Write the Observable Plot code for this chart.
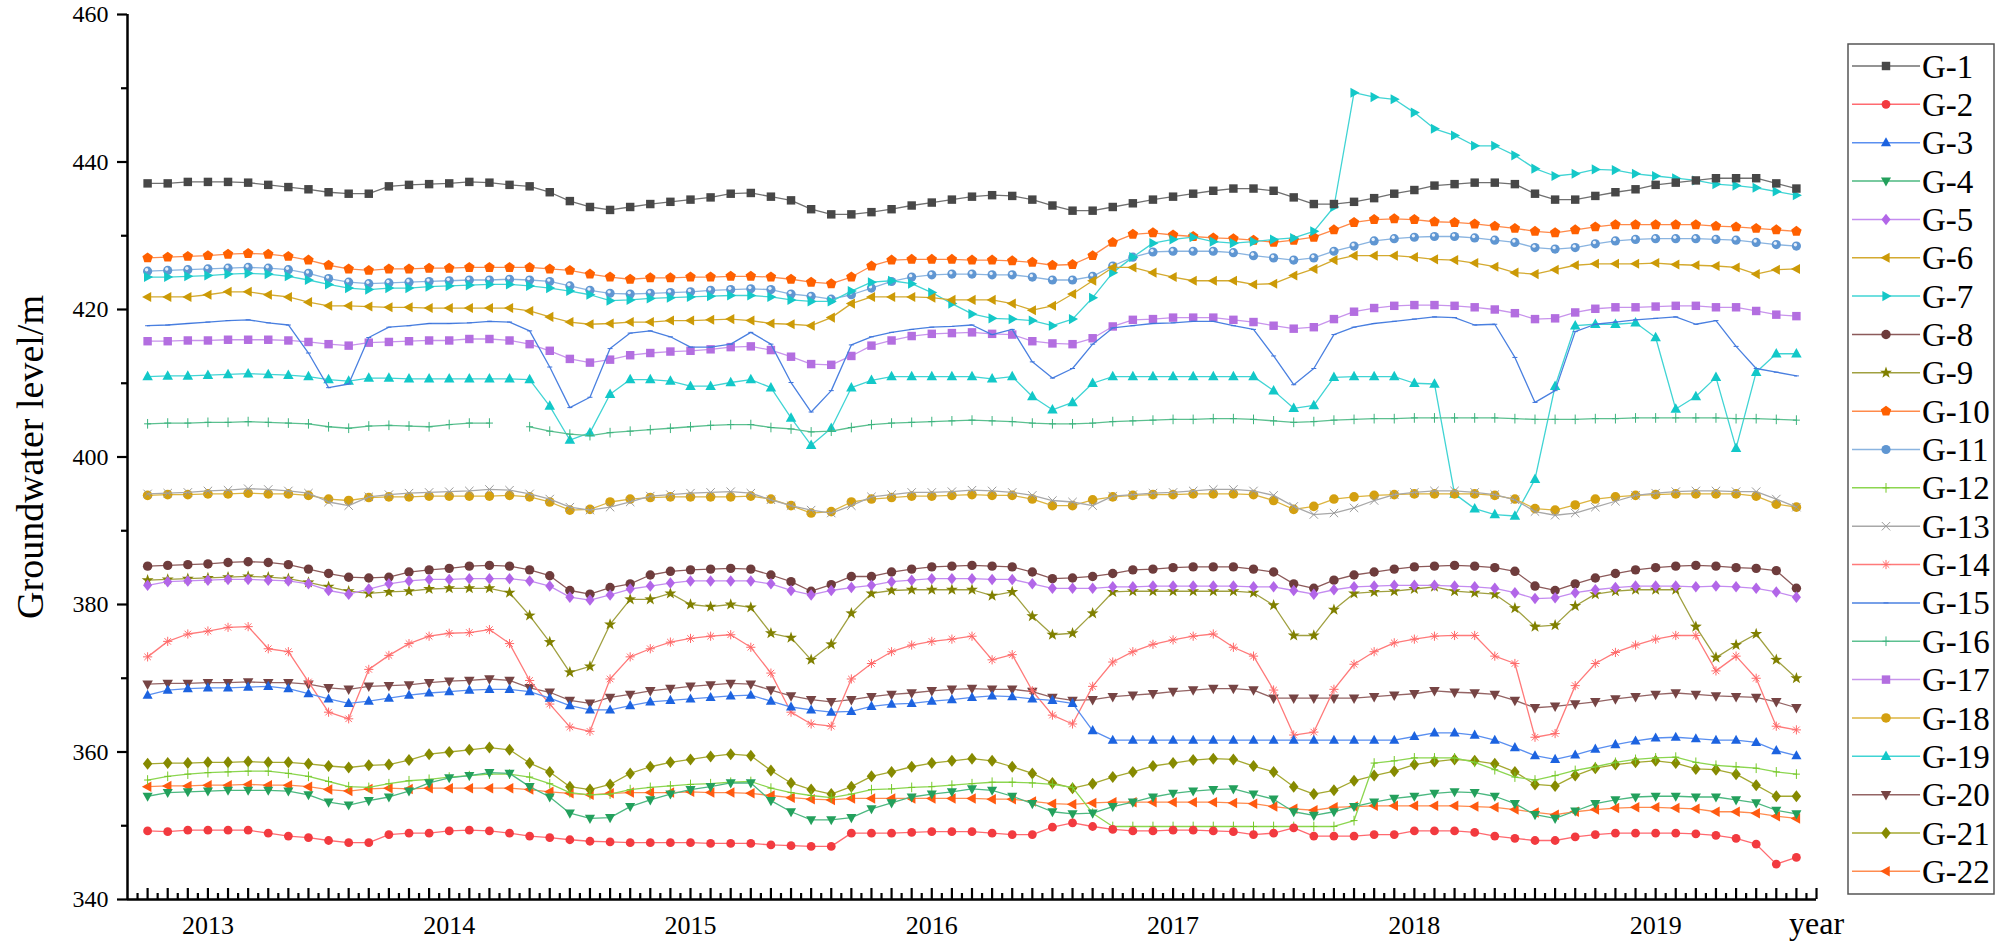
<!DOCTYPE html>
<html>
<head>
<meta charset="utf-8">
<script src="https://cdn.jsdelivr.net/npm/d3@7"></script>
<script src="https://cdn.jsdelivr.net/npm/@observablehq/plot@0.6"></script>
<style>
  html, body { margin: 0; padding: 0; background: #fff; overflow: hidden; }
  #wrap { position: relative; width: 2000px; height: 943px; }
  #legend { position: absolute; left: 0; top: 0; }
</style>
</head>
<body>
<div id="wrap"></div>
<script>
// ---------------- data ----------------
const seriesNames = ["G-1","G-2","G-3","G-4","G-5","G-6","G-7","G-8","G-9","G-10","G-11","G-12","G-13","G-14","G-15","G-16","G-17","G-18","G-19","G-20","G-21","G-22"];
const yearTicks = [3, 15, 27, 39, 51, 63, 75];
const yearLabels = ["2013","2014","2015","2016","2017","2018","2019"];
const yMajor = [340, 360, 380, 400, 420, 440, 460];
const yMinor = [350, 370, 390, 410, 430, 450];
const xDomain = [-1, 83];
const xTitle = "year";
const yTitle = "Groundwater level/m";

const G1 = [437.1,437.1,437.3,437.3,437.3,437.2,436.9,436.6,436.3,435.9,435.7,435.7,
436.7,436.9,437.0,437.1,437.3,437.2,436.9,436.7,435.9,434.7,433.9,433.5,
433.9,434.3,434.6,434.9,435.2,435.7,435.8,435.3,434.8,433.6,432.9,432.9,
433.2,433.6,434.1,434.5,434.9,435.3,435.5,435.4,434.9,434.1,433.4,433.4,
433.9,434.4,434.9,435.3,435.7,436.1,436.4,436.4,436.1,435.2,434.3,434.3,
434.6,435.1,435.7,436.2,436.8,437.0,437.2,437.2,437.0,435.7,434.9,434.9,
435.4,435.9,436.3,436.9,437.2,437.5,437.8,437.8,437.8,437.1,436.4];
const G2 = [349.3,349.2,349.4,349.4,349.4,349.4,349.0,348.6,348.4,348.0,347.7,347.7,
348.8,349.0,349.0,349.3,349.4,349.3,349.0,348.6,348.4,348.1,347.9,347.8,
347.7,347.7,347.7,347.7,347.6,347.6,347.6,347.4,347.3,347.2,347.2,349.0,
349.0,349.0,349.1,349.2,349.2,349.2,349.0,348.8,348.8,349.8,350.4,349.9,
349.5,349.3,349.3,349.4,349.4,349.3,349.2,348.8,349.0,349.7,348.6,348.6,
348.6,348.8,348.8,349.3,349.3,349.3,349.1,348.6,348.3,348.0,348.0,348.5,
348.8,349.0,349.0,349.0,349.0,348.9,348.7,348.3,347.5,344.8,345.7];
const G3 = [367.7,368.4,368.6,368.7,368.7,368.8,368.9,368.6,367.9,367.2,366.6,366.9,
367.3,367.7,368.0,368.2,368.4,368.5,368.5,368.2,367.3,366.3,365.7,365.7,
366.3,366.8,367.0,367.2,367.4,367.6,367.7,366.9,366.1,365.7,365.4,365.5,
366.2,366.5,366.6,366.9,367.1,367.4,367.6,367.5,367.2,367.0,366.6,362.9,
361.6,361.6,361.6,361.6,361.6,361.6,361.6,361.6,361.6,361.6,361.6,361.6,
361.6,361.6,361.6,362.1,362.6,362.6,362.3,361.6,360.6,359.5,359.0,359.6,
360.4,361.0,361.5,361.9,362.0,361.8,361.6,361.6,361.3,360.2,359.5];
const G4 = [354.0,354.5,354.6,354.7,354.8,354.8,354.8,354.7,354.2,353.2,352.8,353.4,
353.9,354.7,355.8,356.5,356.8,357.2,357.1,355.3,353.9,351.7,351.0,351.1,
352.6,353.5,354.3,354.9,355.3,355.8,355.8,353.4,351.9,350.8,350.8,351.1,
352.3,353.1,353.9,354.3,354.6,355.0,354.8,354.0,353.0,351.9,351.6,351.7,
352.6,353.2,353.9,354.4,354.7,354.9,355.0,354.3,353.6,351.9,351.4,351.9,
352.6,353.2,353.7,354.0,354.4,354.6,354.5,354.0,353.0,351.5,351.0,352.0,
353.0,353.5,353.9,354.0,354.0,353.9,353.9,353.5,353.1,352.1,351.6];
const G5 = [382.6,383.1,383.2,383.3,383.4,383.4,383.3,383.2,382.8,381.9,381.4,382.1,
382.8,383.2,383.4,383.4,383.5,383.5,383.5,383.2,382.5,381.0,380.6,381.3,
382.1,382.5,382.9,383.2,383.2,383.2,383.2,382.8,381.9,381.3,381.9,382.3,
382.6,383.1,383.3,383.5,383.5,383.5,383.4,383.4,382.8,382.2,382.2,382.2,
382.4,382.4,382.5,382.5,382.5,382.5,382.5,382.4,382.4,381.9,381.4,382.0,
382.4,382.5,382.6,382.6,382.6,382.5,382.4,382.2,381.6,380.8,380.9,381.6,
382.0,382.3,382.5,382.5,382.5,382.4,382.5,382.4,382.2,381.7,381.0];
const G6 = [421.7,421.7,421.7,422.0,422.4,422.4,422.0,421.7,421.0,420.5,420.5,420.4,
420.3,420.3,420.2,420.2,420.2,420.2,420.2,419.8,419.0,418.3,418.0,418.1,
418.3,418.3,418.5,418.5,418.6,418.7,418.5,418.1,418.0,417.8,418.9,420.8,
421.7,421.7,421.7,421.6,421.3,421.3,421.3,420.8,419.9,420.5,422.1,423.9,
425.7,425.7,425.0,424.4,423.9,423.9,423.9,423.4,423.5,424.6,425.5,426.7,
427.3,427.3,427.3,427.1,426.8,426.7,426.3,425.8,425.0,424.8,425.4,426.0,
426.2,426.2,426.2,426.3,426.1,426.0,425.9,425.7,424.8,425.4,425.5];
const G7 = [424.4,424.4,424.5,424.6,424.8,424.9,424.8,424.5,424.0,423.4,422.9,422.7,
422.9,422.9,423.1,423.2,423.3,423.4,423.4,423.2,422.9,422.5,422.0,421.2,
421.3,421.5,421.6,421.7,421.8,421.9,421.9,421.7,421.3,421.1,421.1,422.5,
423.7,423.9,423.5,422.3,420.8,419.4,418.8,418.7,418.5,417.8,418.7,421.6,
425.0,427.1,429.0,429.5,429.8,429.2,429.0,429.2,429.5,429.7,430.6,433.9,
449.4,448.8,448.5,446.7,444.5,443.6,442.2,442.2,440.9,439.1,438.1,438.4,
439.0,438.9,438.4,438.1,437.8,437.5,437.0,436.8,436.5,436.0,435.5];
const G8 = [385.2,385.3,385.4,385.5,385.7,385.8,385.7,385.4,384.8,384.2,383.7,383.6,
383.7,384.4,384.7,384.9,385.2,385.3,385.2,384.7,383.9,381.9,381.4,382.3,
382.8,384.0,384.5,384.7,384.8,384.9,384.8,384.0,383.1,381.8,382.7,383.8,
383.8,384.4,384.8,385.1,385.2,385.3,385.2,385.1,384.4,383.5,383.6,383.8,
384.2,384.7,384.8,385.0,385.1,385.1,385.1,384.8,384.4,382.8,382.2,383.3,
384.0,384.4,384.8,385.1,385.2,385.3,385.2,385.0,384.5,382.5,381.9,382.8,
383.6,384.2,384.7,385.0,385.2,385.3,385.2,385.0,384.9,384.6,382.2];
const G9 = [383.3,383.4,383.5,383.6,383.7,383.8,383.7,383.5,383.0,382.4,381.8,381.5,
381.7,381.8,382.1,382.2,382.2,382.2,381.6,378.5,374.9,370.8,371.6,377.3,
380.7,380.7,381.5,380.0,379.7,380.0,379.6,376.1,375.5,372.5,374.6,378.8,
381.5,381.9,382.0,382.0,382.0,382.0,381.2,381.7,378.4,375.9,376.1,378.8,
381.7,381.8,381.8,381.8,381.8,381.8,381.8,381.6,379.9,375.8,375.8,379.3,
381.5,381.7,381.8,382.1,382.4,381.8,381.6,381.4,379.5,377.0,377.2,379.8,
381.4,381.8,382.0,382.0,382.0,377.0,372.8,374.5,376.0,372.5,370.0];
const G10 = [427.0,427.1,427.2,427.3,427.5,427.6,427.5,427.2,426.7,426.0,425.5,425.3,
425.5,425.5,425.6,425.6,425.7,425.7,425.7,425.7,425.5,425.3,424.8,424.4,
424.1,424.3,424.3,424.4,424.4,424.5,424.5,424.4,424.1,423.7,423.5,424.4,
425.9,426.7,426.8,426.8,426.8,426.7,426.7,426.6,426.4,426.0,426.1,427.3,
429.1,430.2,430.4,430.1,429.9,429.7,429.6,429.4,429.1,429.4,429.8,430.8,
431.8,432.2,432.3,432.2,431.9,431.8,431.6,431.3,431.0,430.6,430.4,430.8,
431.2,431.5,431.5,431.5,431.5,431.5,431.3,431.2,431.0,430.8,430.6];
const G11 = [425.2,425.3,425.4,425.5,425.6,425.7,425.6,425.4,424.9,424.2,423.7,423.5,
423.6,423.7,423.8,423.9,424.0,424.0,424.1,424.0,423.8,423.2,422.6,422.2,
422.1,422.2,422.3,422.4,422.6,422.7,422.8,422.7,422.1,421.8,421.4,422.0,
422.9,423.8,424.4,424.7,424.8,424.8,424.7,424.7,424.4,424.0,424.0,424.5,
425.9,427.1,427.8,427.9,427.9,427.9,427.7,427.3,427.0,426.7,427.0,427.9,
428.6,429.3,429.6,429.8,429.9,429.9,429.7,429.4,429.1,428.4,428.2,428.4,
428.9,429.3,429.5,429.6,429.6,429.6,429.5,429.4,429.1,428.8,428.6];
const G12 = [356.2,356.7,357.0,357.2,357.3,357.4,357.4,357.1,356.7,356.0,355.3,355.2,
355.7,356.1,356.3,356.6,356.8,357.0,357.0,356.6,355.7,354.5,354.2,354.3,
354.9,355.2,355.4,355.6,355.7,355.9,356.0,355.1,354.5,354.1,353.8,354.3,
354.9,355.0,355.2,355.3,355.5,355.7,355.9,355.9,355.8,355.6,355.2,351.7,
349.9,349.9,349.9,349.9,349.9,349.9,349.9,349.9,349.9,349.9,349.9,349.9,
350.7,358.5,358.8,359.2,359.2,359.2,358.6,357.6,356.6,356.2,356.8,357.5,
358.0,358.6,359.0,359.2,359.3,358.6,358.2,358.0,357.8,357.3,357.0];
const G13 = [395.0,395.1,395.2,395.4,395.5,395.7,395.6,395.4,395.1,393.9,393.4,394.6,
394.9,395.1,395.2,395.3,395.4,395.6,395.5,395.0,394.3,393.2,392.8,393.2,
393.9,394.7,394.9,395.1,395.2,395.3,395.1,394.2,393.4,392.8,392.4,393.4,
394.6,394.9,395.2,395.2,395.3,395.5,395.4,395.2,394.8,394.1,393.9,393.4,
394.7,394.9,395.1,395.2,395.4,395.6,395.6,395.4,394.8,393.3,392.2,392.4,
393.1,394.1,394.9,395.2,395.4,395.4,395.2,394.9,394.2,392.6,392.1,392.4,
393.2,394.0,394.8,395.1,395.3,395.4,395.4,395.3,395.3,394.3,393.2];
const G14 = [372.9,375.0,376.0,376.4,376.9,377.0,374.0,373.6,369.5,365.4,364.5,371.2,
373.1,374.7,375.7,376.1,376.2,376.6,374.7,369.7,366.5,363.4,362.8,369.9,
372.9,374.0,374.9,375.4,375.7,375.9,374.2,370.7,365.4,363.8,363.5,369.9,
372.0,373.6,374.5,375.0,375.3,375.7,372.5,373.2,368.3,365.0,363.8,368.9,
372.2,373.6,374.6,375.2,375.7,376.0,374.2,373.0,368.4,362.3,362.7,368.5,
371.9,373.6,374.8,375.3,375.7,375.8,375.8,373.0,372.0,362.0,362.5,369.0,
372.0,373.5,374.5,375.3,375.8,375.8,371.0,373.0,370.0,363.5,363.0];
const G15 = [417.8,417.9,418.1,418.3,418.5,418.6,418.2,417.9,414.1,409.4,409.9,416.2,
417.6,417.8,418.1,418.1,418.2,418.4,418.3,417.1,412.2,406.7,408.1,414.7,
416.8,417.1,416.3,414.9,414.9,415.3,416.9,415.3,410.1,406.1,409.0,415.2,
416.3,416.9,417.3,417.6,417.7,417.9,416.6,417.3,412.9,410.7,412.0,415.3,
417.5,417.8,418.1,418.2,418.4,418.4,417.8,417.3,413.7,409.8,412.0,416.6,
417.6,418.1,418.4,418.7,419.0,418.9,417.9,418.0,413.5,407.4,409.0,417.0,
418.0,418.3,418.6,418.8,419.0,418.0,418.5,415.0,412.0,411.5,411.0];
const G16 = [404.5,404.6,404.6,404.7,404.7,404.8,404.7,404.6,404.5,404.1,403.9,404.2,
404.3,404.2,404.1,404.4,404.6,404.6,null,404.1,403.5,403.1,402.9,403.3,
403.5,403.7,403.9,404.1,404.3,404.4,404.4,404.0,403.8,403.4,403.5,404.0,
404.4,404.6,404.7,404.8,404.9,405.0,404.9,404.8,404.6,404.5,404.5,404.6,
404.8,404.9,405.0,405.1,405.1,405.2,405.2,405.1,404.9,404.7,404.8,405.0,
405.1,405.2,405.2,405.3,405.3,405.3,405.3,405.3,405.2,405.1,405.1,405.1,
405.2,405.2,405.3,405.3,405.3,405.3,405.3,405.2,405.2,405.1,405.0];
const G17 = [415.7,415.7,415.8,415.8,415.9,415.9,415.9,415.8,415.6,415.3,415.1,415.5,
415.6,415.7,415.8,415.8,416.0,416.0,415.8,415.3,414.4,413.3,412.8,413.2,
413.8,414.1,414.3,414.4,414.6,414.9,415.0,414.5,413.6,412.6,412.5,413.7,
415.1,415.8,416.4,416.7,416.8,416.9,416.7,416.6,415.7,415.4,415.3,416.1,
417.7,418.6,418.7,418.9,418.9,418.9,418.6,418.3,417.8,417.4,417.6,418.7,
419.7,420.2,420.5,420.6,420.6,420.5,420.3,420.0,419.5,418.7,418.8,419.6,
420.1,420.3,420.3,420.4,420.5,420.5,420.3,420.3,419.8,419.3,419.1];
const G18 = [394.8,394.9,394.9,395.0,395.0,395.1,395.0,395.0,394.8,394.3,394.1,394.5,
394.6,394.6,394.7,394.7,394.7,394.7,394.8,394.6,393.9,392.8,392.9,393.9,
394.3,394.5,394.6,394.6,394.6,394.6,394.7,394.3,393.4,392.4,392.6,393.9,
394.3,394.5,394.7,394.7,394.8,394.9,394.8,394.8,394.3,393.4,393.4,394.2,
394.6,394.8,394.9,394.9,395.0,395.0,395.0,394.9,394.1,392.9,393.3,394.3,
394.6,394.8,394.9,395.0,395.0,395.0,395.0,394.8,394.3,393.0,392.8,393.5,
394.3,394.6,394.8,394.9,395.0,395.0,395.0,395.0,394.7,393.6,393.2];
const G19 = [410.9,411.0,411.0,411.1,411.2,411.3,411.2,411.1,410.9,410.5,410.3,410.7,
410.7,410.6,410.6,410.6,410.6,410.6,410.6,410.5,406.9,402.3,403.3,408.5,
410.5,410.5,410.3,409.6,409.6,410.1,410.5,409.4,405.3,401.6,403.9,409.4,
410.4,410.9,410.9,410.9,410.9,410.9,410.6,410.9,408.2,406.4,407.4,410.0,
410.9,410.9,410.9,410.9,410.9,410.9,410.9,410.9,409.0,406.6,407.0,410.8,
410.9,410.9,410.9,410.0,409.9,395.0,393.0,392.2,392.0,397.0,409.6,417.8,
418.0,418.0,418.2,416.2,406.5,408.2,410.8,401.2,411.5,414.0,414.0];
const G20 = [369.2,369.3,369.3,369.4,369.4,369.5,369.4,369.4,369.2,368.7,368.5,368.9,
369.0,369.1,369.4,369.6,369.7,369.9,369.7,368.7,368.1,367.0,366.6,367.4,
367.8,368.3,368.6,368.9,369.1,369.3,369.2,368.4,367.6,367.1,366.8,367.1,
367.5,367.8,368.0,368.3,368.5,368.6,368.5,368.5,368.2,367.4,367.0,367.1,
367.5,367.7,367.9,368.2,368.4,368.6,368.6,368.4,367.3,367.3,367.3,367.3,
367.3,367.5,367.7,367.9,368.3,368.1,368.0,367.8,367.0,366.0,366.2,366.5,
366.8,367.2,367.5,367.8,368.0,367.8,367.6,367.5,367.4,366.8,366.0];
const G21 = [358.4,358.5,358.5,358.6,358.6,358.7,358.6,358.6,358.4,358.1,357.9,358.2,
358.3,358.9,359.7,360.0,360.3,360.6,360.3,358.5,357.3,355.3,354.9,355.6,
357.1,358.0,358.6,359.0,359.4,359.7,359.5,357.5,355.8,354.9,354.3,355.3,
356.7,357.3,358.0,358.5,358.8,359.1,358.8,358.0,357.1,355.8,355.1,355.7,
356.6,357.3,358.1,358.5,358.9,359.1,359.0,358.1,357.3,355.3,354.3,354.8,
356.1,356.8,357.4,358.3,358.7,359.0,358.8,358.4,357.3,355.6,355.4,356.8,
357.8,358.3,358.6,358.8,358.5,357.7,357.6,357.0,355.5,354.0,354.0];
const G22 = [355.3,355.4,355.4,355.5,355.5,355.6,355.5,355.5,355.3,354.9,354.7,355.0,
355.1,355.0,355.1,355.1,355.1,355.1,355.1,354.9,354.6,354.4,354.2,354.4,
354.5,354.5,354.5,354.6,354.5,354.5,354.4,354.1,353.8,353.6,353.5,353.7,
353.7,353.7,353.7,353.7,353.7,353.7,353.6,353.6,353.3,353.0,352.9,353.1,
353.2,353.2,353.2,353.2,353.2,353.2,353.1,353.0,352.6,352.3,352.1,352.5,
352.6,352.7,352.7,352.7,352.7,352.7,352.6,352.5,352.2,351.8,351.5,351.9,
352.2,352.4,352.5,352.5,352.4,352.3,351.9,351.9,351.7,351.3,351.0];

const seriesValues = [G1,G2,G3,G4,G5,G6,G7,G8,G9,G10,G11,G12,G13,G14,G15,G16,G17,G18,G19,G20,G21,G22];

// ---------------- styles ----------------
const markerColors = ["#474747","#f23a3f","#1c63e0","#23a05c","#b266e8","#cc9a06","#14c8c8","#6e3c3c","#808000","#ff6000","#5f96d2","#76c828","#9a9a9a","#ff6a6a","#3f74dc","#3cb37e","#b36ee0","#d4a010","#12c8c8","#764444","#868a00","#ff5a10"];
const lineColors   = ["#707070","#ff6a70","#5a8ff0","#4cb880","#c48cf0","#d4aa30","#40d4d4","#8c5a5a","#a0a040","#ff8a4a","#8ab4e0","#8cd650","#a8a8a8","#ff7a7a","#4a80e0","#5cc090","#c894ec","#dcb440","#40d4d4","#946464","#a4a830","#ff8c50"];

function poly(pts) {
  return {draw(ctx, size) {
    const r = Math.sqrt(size / Math.PI);
    ctx.moveTo(pts[0][0] * r, pts[0][1] * r);
    for (let k = 1; k < pts.length; ++k) ctx.lineTo(pts[k][0] * r, pts[k][1] * r);
    ctx.closePath();
  }};
}
const symSquare = poly([[-0.88,-0.88],[0.88,-0.88],[0.88,0.88],[-0.88,0.88]]);
const symTriUp = poly([[0,-1.15],[1.05,0.75],[-1.05,0.75]]);
const symTriDown = poly([[0,1.15],[1.05,-0.75],[-1.05,-0.75]]);
const symTriLeft = poly([[-1.15,0],[0.75,-1.05],[0.75,1.05]]);
const symTriRight = poly([[1.15,0],[-0.75,-1.05],[-0.75,1.05]]);
const symDiamond = poly([[0,-1.2],[0.95,0],[0,1.2],[-0.95,0]]);
const symPentagon = poly(d3.range(5).map(k => [1.1*Math.cos(-Math.PI/2 + k*2*Math.PI/5), 1.1*Math.sin(-Math.PI/2 + k*2*Math.PI/5)]));
const symStar = poly(d3.range(10).map(k => { const a = -Math.PI/2 + k*Math.PI/5, rr = k % 2 ? 0.5 : 1.25; return [rr*Math.cos(a), rr*Math.sin(a)]; }));
const symCircle = {draw(ctx, size) { const r = Math.sqrt(size / Math.PI); ctx.moveTo(r, 0); ctx.arc(0, 0, r, 0, 2*Math.PI); }};
const symPlus = {draw(ctx, size) { const r = Math.sqrt(size / Math.PI); ctx.moveTo(-r*0.8, 0); ctx.lineTo(r*0.8, 0); ctx.moveTo(0, -r*1.1); ctx.lineTo(0, r*1.1); }};
const symTimes = {draw(ctx, size) { const r = Math.sqrt(size / Math.PI); ctx.moveTo(-r, -r); ctx.lineTo(r, r); ctx.moveTo(-r, r); ctx.lineTo(r, -r); }};
const symAsterisk = {draw(ctx, size) { const r = Math.sqrt(size / Math.PI); for (let k = 0; k < 4; ++k) { const a = k*Math.PI/4; ctx.moveTo(-r*Math.cos(a), -r*Math.sin(a)); ctx.lineTo(r*Math.cos(a), r*Math.sin(a)); } }};
const symDash = {draw(ctx, size) { const r = Math.sqrt(size / Math.PI); ctx.moveTo(-r, 0); ctx.lineTo(r, 0); }};

// [symbol, filled?, radius]
const markerSpecs = [
  [symSquare,true,4.8],[symCircle,true,4.4],[symTriUp,true,4.8],[symTriDown,true,4.8],[symDiamond,true,4.8],
  [symTriLeft,true,4.8],[symTriRight,true,4.8],[symCircle,true,4.7],[symStar,true,5],[symPentagon,true,5],
  [symCircle,true,4.6],[symPlus,false,4.4],[symTimes,false,4.2],[symAsterisk,false,4.6],[symDash,false,2.5],
  [symPlus,false,4.4],[symSquare,true,4.8],[symCircle,true,4.8],[symTriUp,true,5],[symTriDown,true,5],
  [symDiamond,true,5],[symTriLeft,true,5]
];

// ---------------- table ----------------
const rows = [];
seriesValues.forEach((vals, s) => vals.forEach((v, i) => rows.push({series: seriesNames[s], s, i, v})));

const intTicks = d3.range(xDomain[0] + 1, xDomain[1] + 1);
const halfTicks = d3.range(xDomain[0] + 0.5, xDomain[1], 1);

const marks = [];
// draw in reverse so that G-1 sits on top
for (let s = seriesNames.length - 1; s >= 0; --s) {
  const data = rows.filter(d => d.s === s);
  marks.push(Plot.line(data, {x: "i", y: "v", stroke: lineColors[s], strokeWidth: 1.3}));
  const [sym, filled, r] = markerSpecs[s];
  const pts = data.filter(d => d.v != null);
  if (filled) {
    marks.push(Plot.dot(pts, {x: "i", y: "v", symbol: sym, r, fill: markerColors[s], stroke: "none"}));
    if (s === 10) marks.push(Plot.dot(pts, {x: "i", y: "v", r: 1.7, fill: "#e8f0fa", stroke: "none", dx: -1, dy: -1.4}));
  } else {
    marks.push(Plot.dot(pts, {x: "i", y: "v", symbol: sym, r, fill: "none", stroke: markerColors[s], strokeWidth: 1}));
  }
}

marks.push(
  Plot.axisY({ticks: yMajor, tickSize: 10, tickPadding: 9, fontSize: 24, tickFormat: d => String(d), strokeWidth: 2.2, label: null, fontFamily: "Liberation Serif"}),
  Plot.axisY({ticks: yMinor, tickSize: 6, tickFormat: () => "", strokeWidth: 2.2, label: null}),
  Plot.axisX({ticks: intTicks, tickSize: -11, tickFormat: () => "", strokeWidth: 2.2, label: null}),
  Plot.axisX({ticks: halfTicks, tickSize: -6, tickFormat: () => "", strokeWidth: 2.2, label: null}),
  Plot.axisX({ticks: yearTicks, tickSize: 0, tickPadding: 16, fontSize: 26, tickFormat: d => yearLabels[yearTicks.indexOf(d)], label: null, fontFamily: "Liberation Serif"}),
  Plot.ruleX([xDomain[0]], {stroke: "black", strokeWidth: 2.5}),
  Plot.ruleY([yMajor[0]], {stroke: "black", strokeWidth: 2.5}),
  Plot.text([xTitle], {x: xDomain[1], frameAnchor: "bottom", dy: 24, fontSize: 32, fontFamily: "Liberation Serif", lineAnchor: "middle", text: d => d}),
  Plot.text([yTitle], {frameAnchor: "left", dx: -97, rotate: -90, textAnchor: "middle", lineAnchor: "middle", fontSize: 38, fontFamily: "Liberation Serif", text: d => d})
);

const chart = Plot.plot({
  width: 2000,
  height: 943,
  marginLeft: 127,
  marginRight: 184,
  marginTop: 14,
  marginBottom: 44,
  x: {domain: xDomain},
  y: {domain: [yMajor[0], yMajor[yMajor.length - 1]]},
  style: {background: "white", color: "black", fontFamily: "Liberation Serif", overflow: "visible"},
  marks
});
const wrap = document.getElementById("wrap");
wrap.appendChild(chart);

// ---------------- legend ----------------
const lg = d3.select(wrap).append("svg").attr("id", "legend").attr("width", 2000).attr("height", 943);
lg.append("rect").attr("x", 1848).attr("y", 44).attr("width", 146).attr("height", 850)
  .attr("fill", "white").attr("stroke", "#555").attr("stroke-width", 1.5);
seriesNames.forEach((name, s) => {
  const y = 66 + 38.35 * s;
  lg.append("line").attr("x1", 1852).attr("x2", 1920).attr("y1", y).attr("y2", y)
    .attr("stroke", lineColors[s]).attr("stroke-width", 1.5);
  const [sym, filled, r] = markerSpecs[s];
  const p = d3.path();
  sym.draw(p, Math.PI * r * r);
  lg.append("path").attr("d", p.toString()).attr("transform", `translate(1886,${y})`)
    .attr("fill", filled ? markerColors[s] : "none").attr("stroke", filled ? "none" : markerColors[s]).attr("stroke-width", 1);
  lg.append("text").attr("x", 1922).attr("y", y).attr("dy", "0.35em")
    .attr("font-family", "Liberation Serif").attr("font-size", 33).attr("fill", "black").text(name);
});
</script>
</body>
</html>
